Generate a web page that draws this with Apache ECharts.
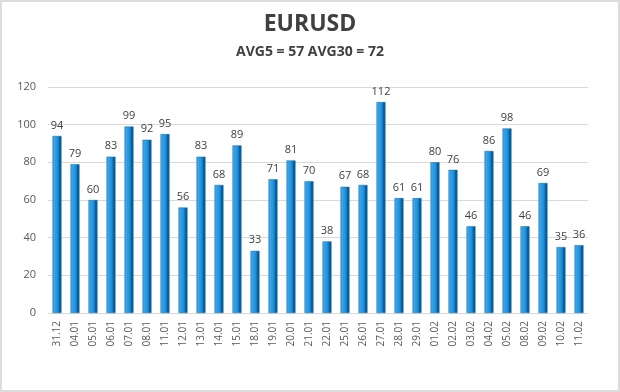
<!DOCTYPE html>
<html><head><meta charset="utf-8">
<script src="https://cdn.jsdelivr.net/npm/echarts@6/dist/echarts.min.js"></script>
<style>
html,body{margin:0;padding:0;background:#fff;}
#c{width:616px;height:388px;border:2px solid #dcdcdc;}
</style></head><body>
<div id="c"></div>
<script>
const categories = ["31.12","04.01","05.01","06.01","07.01","08.01","11.01","12.01","13.01","14.01","15.01","18.01","19.01","20.01","21.01","22.01","25.01","26.01","27.01","28.01","29.01","01.02","02.02","03.02","04.02","05.02","08.02","09.02","10.02","11.02"];
const values = [94,79,60,83,99,92,95,56,83,68,89,33,71,81,70,38,67,68,112,61,61,80,76,46,86,98,46,69,35,36];
const titleText = "EURUSD";
const subtitleText = "AVG5 = 57 AVG30 = 72";

const chart = echarts.init(document.getElementById('c'), null, {renderer:'canvas'});
chart.setOption({
  animation:false,
  backgroundColor:'#fff',
  title:{
    text:titleText, subtext:subtitleText, left:'center', top:6, itemGap:9,
    textStyle:{fontFamily:'Open Sans', fontWeight:'bold', fontSize:23, color:'#404040'},
    subtextStyle:{fontFamily:'Open Sans', fontWeight:'bold', fontSize:14, color:'#404040'}
  },
  grid:{left:46, right:30, top:85, bottom:77},
  xAxis:{
    type:'category', data:categories,
    axisLine:{show:true, lineStyle:{color:'#d9d9d9'}},
    axisTick:{show:false},
    axisLabel:{rotate:90, fontSize:10, color:'#595959', fontFamily:'Open Sans', margin:8, interval:0}
  },
  yAxis:{
    type:'value', min:0, max:120, interval:20,
    axisLine:{show:false}, axisTick:{show:false},
    axisLabel:{fontSize:11, color:'#595959', fontFamily:'Open Sans', margin:12},
    splitLine:{lineStyle:{color:'#d9d9d9'}}
  },
  series:[{
    type:'bar', data:values, barWidth:9,
    itemStyle:{
      color:new echarts.graphic.LinearGradient(0,0,1,0,[
        {offset:0,color:'#4aaaec'},{offset:0.65,color:'#178ddb'},
        {offset:0.7,color:'#0c5f9e'},{offset:1,color:'#0a5a96'}
      ]),
      borderColor:'#0d6aad', borderWidth:0.5
    },
    label:{show:true, position:'top', distance:5, fontSize:11, color:'#404040', fontFamily:'Open Sans'}
  }]
});
</script></body></html>
